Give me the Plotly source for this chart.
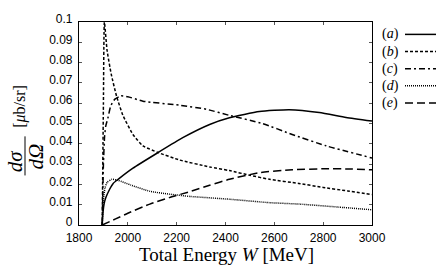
import plotly.graph_objects as go

# ---- data ----
W_a = [1895, 1898, 1903, 1910, 1925, 1940, 1960, 2021, 2124, 2225, 2335, 2416, 2539, 2661, 2784, 2894, 3000]
V_a = [0, 0.006, 0.0105, 0.0135, 0.0175, 0.0205, 0.0225, 0.028, 0.0357, 0.043, 0.0495, 0.0528, 0.0559, 0.0568, 0.0554, 0.053, 0.0512]

W_b = [1895, 1900, 1904, 1915, 1932, 1954, 1980, 2021, 2062, 2124, 2212, 2335, 2416, 2500, 2580, 2700, 2800, 2900, 3000]
V_b = [0, 0.06, 0.1, 0.086, 0.0743, 0.0634, 0.054, 0.0446, 0.039, 0.0357, 0.032, 0.0286, 0.0268, 0.0245, 0.0225, 0.0205, 0.0185, 0.0168, 0.015]

W_c = [1895, 1900, 1905, 1910, 1918, 1930, 1947, 1971, 2000, 2062, 2212, 2322, 2416, 2551, 2673, 2812, 3000]
V_c = [0, 0.03, 0.044, 0.049, 0.0525, 0.0587, 0.062, 0.0636, 0.0632, 0.061, 0.059, 0.057, 0.054, 0.050, 0.0446, 0.039, 0.033]

W_d = [1895, 1900, 1906, 1915, 1935, 1960, 2012, 2090, 2170, 2253, 2416, 2580, 2702, 2865, 3000]
V_d = [0, 0.012, 0.018, 0.021, 0.0225, 0.022, 0.0197, 0.0166, 0.0152, 0.0141, 0.0127, 0.0110, 0.0103, 0.0088, 0.0075]

W_e = [1895, 1950, 2000, 2090, 2170, 2253, 2335, 2416, 2539, 2673, 2812, 2900, 3000]
V_e = [0, 0.003, 0.0058, 0.0103, 0.0135, 0.0164, 0.0196, 0.0225, 0.0258, 0.0272, 0.0277, 0.0276, 0.0272]

labels = ["(<i>a</i>)", "(<i>b</i>)", "(<i>c</i>)", "(<i>d</i>)", "(<i>e</i>)"]
dashes = ["solid", "3px,2px", "6px,3px,2px,3px", "1px,1px", "8px,4px"]

series = [(W_a, V_a), (W_b, V_b), (W_c, V_c), (W_d, V_d), (W_e, V_e)]

fig = go.Figure()
for (w, v), lab, d in zip(series, labels, dashes):
    fig.add_trace(go.Scatter(x=w, y=v, mode="lines", name=lab,
                             line=dict(color="black", width=1.5, dash=d,
                                       shape="spline", smoothing=0.5),
                             showlegend=False))

# ---- layout ----
L, R, T, B = 79, 64, 12, 42
fig.update_layout(
    width=436, height=267,
    margin=dict(l=L, r=R, t=T, b=B),
    paper_bgcolor="white", plot_bgcolor="white",
    font=dict(family="Liberation Sans, Arial, sans-serif", size=12, color="black"),
)
axis_common = dict(showgrid=False, zeroline=False, showline=True, linecolor="black",
                   linewidth=1.2, mirror="allticks", ticks="inside", ticklen=3,
                   tickcolor="#555", tickwidth=1,
                   tickfont=dict(family="Liberation Sans, Arial, sans-serif", size=12, color="black"))
fig.update_xaxes(range=[1800, 3000], dtick=200, tick0=1800, ticklabelstandoff=1, **axis_common)
fig.update_yaxes(range=[0, 0.1], dtick=0.01, tick0=0, ticklabelstandoff=3,
                 ticklabelshift=-3, **axis_common)

pw = 436 - L - R
ph = 267 - T - B
def px(xp):
    return (xp - L) / pw
def py(yp):
    return (267 - B - yp) / ph

serif = "Liberation Serif, Times New Roman, serif"

# x-axis title
fig.add_annotation(xref="paper", yref="paper", x=px(226), y=py(256),
                   text="Total Energy <i>W</i> [MeV]", showarrow=False,
                   font=dict(family=serif, size=19, color="black"),
                   xanchor="center", yanchor="middle")

# y-axis title as rotated fraction
fig.add_annotation(xref="paper", yref="paper", x=px(15), y=py(158),
                   text="<i>dσ</i>", showarrow=False, textangle=-90,
                   font=dict(family=serif, size=21, color="black"),
                   xanchor="center", yanchor="middle")
fig.add_annotation(xref="paper", yref="paper", x=px(36), y=py(153),
                   text="<i>dΩ</i>", showarrow=False, textangle=-90,
                   font=dict(family=serif, size=21, color="black"),
                   xanchor="center", yanchor="middle")
fig.add_shape(type="line", xref="paper", yref="paper",
              x0=px(25), x1=px(25), y0=py(132), y1=py(173),
              line=dict(color="black", width=1))
fig.add_annotation(xref="paper", yref="paper", x=px(20), y=py(101),
                   text="[<i>μ</i>b/sr]", showarrow=False, textangle=-90,
                   font=dict(family=serif, size=16, color="black"),
                   xanchor="center", yanchor="middle")

# legend (text left, line sample right)
rows = [25, 43, 61, 79, 97]
for lab, d, yr in zip(labels, dashes, rows):
    fig.add_annotation(xref="paper", yref="paper", x=px(390), y=py(yr),
                       text=lab, showarrow=False,
                       font=dict(family=serif, size=14, color="black"),
                       xanchor="center", yanchor="middle")
    fig.add_shape(type="line", xref="paper", yref="paper",
                  x0=px(405), x1=px(436), y0=py(yr), y1=py(yr),
                  line=dict(color="black", width=1.5, dash=d))

fig.write_html("out.html", config={"displayModeBar": False},
               post_script="document.body.style.margin='0px';")
